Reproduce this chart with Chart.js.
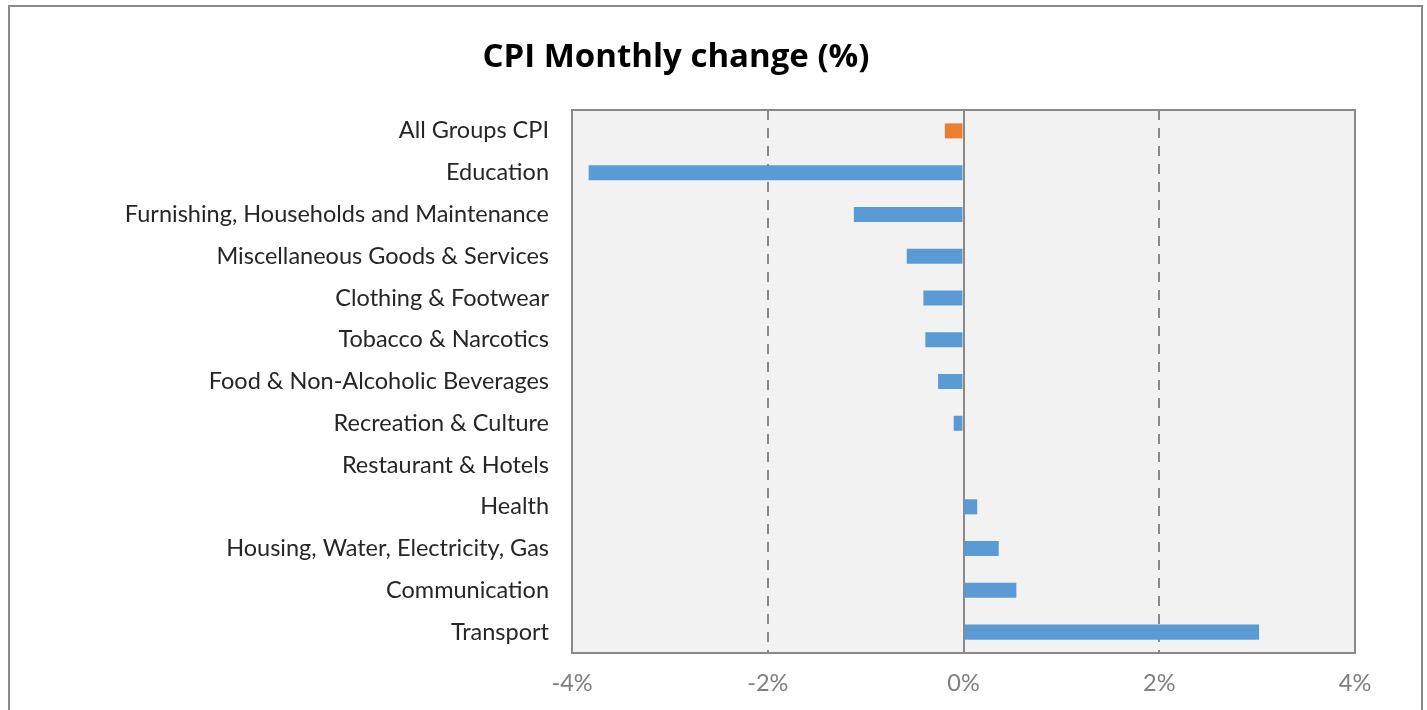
<!DOCTYPE html>
<html>
<head>
<meta charset="utf-8">
<script src="https://cdn.jsdelivr.net/npm/chart.js@4"></script>
<style>
    html, body { margin: 0; padding: 0; background: #fff; }
    #wrap { position: relative; width: 1427px; height: 710px; }
</style>
</head>
<body>
<div id="wrap"><canvas id="cpiChart" width="1427" height="710"></canvas></div>
<script>
// data
const categories = [
    "All Groups CPI",
    "Education",
    "Furnishing, Households and Maintenance",
    "Miscellaneous Goods & Services",
    "Clothing & Footwear",
    "Tobacco & Narcotics",
    "Food & Non-Alcoholic Beverages",
    "Recreation & Culture",
    "Restaurant & Hotels",
    "Health",
    "Housing, Water, Electricity, Gas",
    "Communication",
    "Transport"
];
const monthlyChange = [-0.19, -3.83, -1.12, -0.58, -0.41, -0.39, -0.26, -0.10, 0, 0.14, 0.36, 0.54, 3.02];
const xTicks = [-4, -2, 0, 2, 4];
const chartTitle = "CPI Monthly change (%)";

const BLUE = "#5b9bd5";
const ORANGE = "#ed7d31";
const LINE = "#898989";

// outer frame, plot background and plot border, title
const decor = {
    id: "decor",
    beforeDraw(chart) {
        const { ctx, chartArea: a } = chart;
        ctx.save();
        ctx.strokeStyle = LINE;
        ctx.lineWidth = 2;
        ctx.beginPath();
        ctx.moveTo(9, 720);
        ctx.lineTo(9, 6);
        ctx.lineTo(1422, 6);
        ctx.lineTo(1422, 720);
        ctx.stroke();
        ctx.fillStyle = "#f2f2f2";
        ctx.fillRect(a.left, a.top, a.right - a.left, a.bottom - a.top);
        ctx.fillStyle = "#000";
        ctx.font = "bold 33px 'Open Sans'";
        ctx.textAlign = "center";
        ctx.textBaseline = "middle";
        ctx.fillText(chartTitle, 676, 58);
        ctx.restore();
    },
    afterDraw(chart) {
        const { ctx, chartArea: a } = chart;
        ctx.save();
        ctx.strokeStyle = LINE;
        ctx.lineWidth = 2;
        ctx.strokeRect(a.left, a.top, a.right - a.left, a.bottom - a.top);
        ctx.restore();
    }
};

new Chart(document.getElementById("cpiChart"), {
    type: "bar",
    data: {
        labels: categories,
        datasets: [{
            data: monthlyChange,
            backgroundColor: categories.map((c, i) => i === 0 ? ORANGE : BLUE),
            borderWidth: 0,
            barPercentage: 0.6,
            categoryPercentage: 0.6
        }]
    },
    options: {
        indexAxis: "y",
        responsive: false,
        animation: false,
        layout: { padding: { left: 0, right: 72, top: 110, bottom: 0 } },
        plugins: {
            legend: { display: false },
            tooltip: { enabled: false }
        },
        scales: {
            x: {
                min: xTicks[0],
                max: xTicks[xTicks.length - 1],
                afterBuildTicks: scale => { scale.ticks = xTicks.map(v => ({ value: v })); },
                afterFit: scale => { scale.height = 57; },
                border: {
                    display: false,
                    dash: ctx => (ctx.tick && ctx.tick.value === 0) ? [] : [10, 8]
                },
                grid: {
                    drawTicks: false,
                    lineWidth: 2,
                    color: ctx => (ctx.tick && Math.abs(ctx.tick.value) === 4) ? "rgba(0,0,0,0)" : LINE
                },
                ticks: {
                    padding: 16,
                    color: "#7f7f7f",
                    font: { family: "Lato", size: 23.5 },
                    callback: v => v + "%"
                }
            },
            y: {
                afterFit: scale => { scale.width = 572; },
                border: { display: false },
                grid: { display: false, drawTicks: false },
                ticks: {
                    padding: 23,
                    color: "#262626",
                    font: { family: "Lato", size: 23.5 },
                    autoSkip: false
                }
            }
        }
    },
    plugins: [decor]
});
</script>
</body>
</html>
